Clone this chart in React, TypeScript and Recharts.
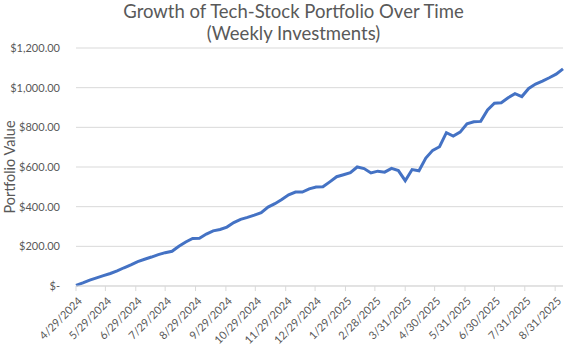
import React from "react";
import { LineChart, Line, XAxis, YAxis, CartesianGrid } from "recharts";

const weekDates: string[] = [
  "2024-04-29", "2024-05-06", "2024-05-13", "2024-05-20", "2024-05-27", "2024-06-03",
  "2024-06-10", "2024-06-17", "2024-06-24", "2024-07-01", "2024-07-08", "2024-07-15",
  "2024-07-22", "2024-07-29", "2024-08-05", "2024-08-12", "2024-08-19", "2024-08-26",
  "2024-09-02", "2024-09-09", "2024-09-16", "2024-09-23", "2024-09-30", "2024-10-07",
  "2024-10-14", "2024-10-21", "2024-10-28", "2024-11-04", "2024-11-11", "2024-11-18",
  "2024-11-25", "2024-12-02", "2024-12-09", "2024-12-16", "2024-12-23", "2024-12-30",
  "2025-01-06", "2025-01-13", "2025-01-20", "2025-01-27", "2025-02-03", "2025-02-10",
  "2025-02-17", "2025-02-24", "2025-03-03", "2025-03-10", "2025-03-17", "2025-03-24",
  "2025-03-31", "2025-04-07", "2025-04-14", "2025-04-21", "2025-04-28", "2025-05-05",
  "2025-05-12", "2025-05-19", "2025-05-26", "2025-06-02", "2025-06-09", "2025-06-16",
  "2025-06-23", "2025-06-30", "2025-07-07", "2025-07-14", "2025-07-21", "2025-07-28",
  "2025-08-04", "2025-08-11", "2025-08-18", "2025-08-25", "2025-09-01", "2025-09-08",
];

const portfolioValues: number[] = [
  3, 16, 30, 41, 52, 63, 76, 92, 107, 123, 135, 146,
  158, 168, 175, 200, 222, 240, 241, 262, 278, 285, 297, 320,
  336, 346, 357, 370, 398, 415, 436, 460, 474, 474, 490, 499,
  500, 525, 551, 561, 571, 600, 592, 570, 579, 574, 593, 582,
  531, 587, 581, 645, 684, 702, 773, 756, 776, 818, 828, 830,
  888, 922, 924, 949, 970, 955, 996, 1018, 1033, 1050, 1068, 1095,
];

const tickDates: string[] = [
  "2024-04-29", "2024-05-29", "2024-06-29", "2024-07-29", "2024-08-29", "2024-09-29",
  "2024-10-29", "2024-11-29", "2024-12-29", "2025-01-29", "2025-02-28", "2025-03-31",
  "2025-04-30", "2025-05-31", "2025-06-30", "2025-07-31", "2025-08-31",
];

const yTicks: number[] = [0, 200, 400, 600, 800, 1000, 1200];

const titleLines: string[] = ["Growth of Tech-Stock Portfolio Over Time", "(Weekly Investments)"];

const toTs = (s: string) => {
  const [y, m, d] = s.split("-").map(Number);
  return Date.UTC(y, m - 1, d);
};

const data = weekDates.map((d, i) => ({ t: toTs(d), value: portfolioValues[i] }));
const xTicks = tickDates.map(toTs);

const fmtDate = (ts: number) => {
  const d = new Date(ts);
  return `${d.getUTCMonth() + 1}/${d.getUTCDate()}/${d.getUTCFullYear()}`;
};

const fmtMoney = (v: number) =>
  v === 0
    ? "$-"
    : "$" + v.toLocaleString("en-US", { minimumFractionDigits: 2, maximumFractionDigits: 2 });

const FONT = "Lato, 'Liberation Sans', sans-serif";
const TXT = "#595959";

const XTick = (props: any) => {
  const { x, y, payload } = props;
  return (
    <g transform={`translate(${x + 4},${y + 6})`}>
      <text
        x={0}
        y={0}
        dy="0.35em"
        textAnchor="end"
        transform="rotate(-45)"
        fill={TXT}
        fontSize={11}
        fontFamily={FONT}
      >
        {fmtDate(payload.value)}
      </text>
    </g>
  );
};

export default function App() {
  const titleStyle: React.CSSProperties = {
    position: "absolute",
    left: 9,
    width: 569,
    textAlign: "center",
    fontFamily: FONT,
    fontSize: 18.5,
    lineHeight: "22.2px",
    height: 23,
    color: TXT,
    whiteSpace: "nowrap",
  };
  return (
    <div style={{ position: "absolute", left: 0, top: 0, width: 569, height: 352, background: "#fff" }}>
      <div style={{ ...titleStyle, top: 0 }}>{titleLines[0]}</div>
      <div style={{ ...titleStyle, top: 22 }}>{titleLines[1]}</div>
      <div
        style={{
          position: "absolute",
          left: 9,
          top: 167,
          transform: "translate(-50%, -50%) rotate(-90deg)",
          whiteSpace: "nowrap",
          fontFamily: FONT,
          fontSize: 14.5,
          lineHeight: "17px",
          color: TXT,
        }}
      >
        Portfolio Value
      </div>
      <LineChart
        width={569}
        height={352}
        data={data}
        margin={{ top: 48, right: 6, left: 0, bottom: 0 }}
      >
        <CartesianGrid horizontal vertical={false} stroke="#d9d9d9" strokeWidth={1} />
        <XAxis
          dataKey="t"
          type="number"
          scale="time"
          domain={[data[0].t, data[data.length - 1].t]}
          ticks={xTicks}
          tick={<XTick />}
          height={66}
          stroke="#d9d9d9"
          tickSize={5}
          interval={0}
        />
        <YAxis
          domain={[0, 1200]}
          ticks={yTicks}
          tickFormatter={fmtMoney}
          width={76}
          axisLine={false}
          tickLine={false}
          tick={{ fill: TXT, fontSize: 11, fontFamily: FONT }}
          tickMargin={10}
        />
        <Line
          type="linear"
          dataKey="value"
          stroke="#4472C4"
          strokeWidth={3}
          dot={false}
          isAnimationActive={false}
        />
      </LineChart>
    </div>
  );
}
